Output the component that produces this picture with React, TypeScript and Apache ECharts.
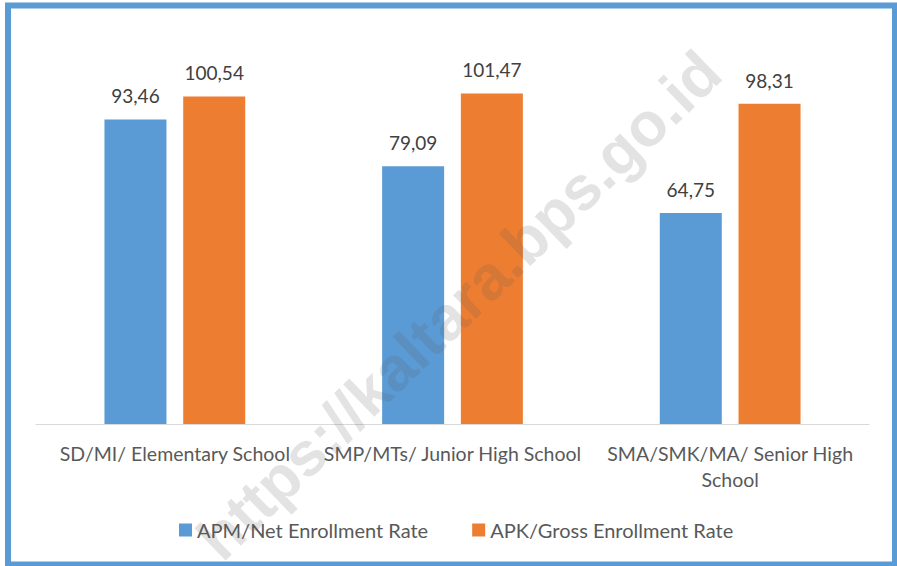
import React, { useEffect, useRef } from "react";
import * as echarts from "echarts";

const categories = [
  "SD/MI/ Elementary School",
  "SMP/MTs/ Junior High School",
  "SMA/SMK/MA/ Senior High School",
];
const apmValues = [93.46, 79.09, 64.75];
const apkValues = [100.54, 101.47, 98.31];
const seriesNames = ["APM/Net Enrollment Rate", "APK/Gross Enrollment Rate"];
const watermark = "https://kaltara.bps.go.id";

const FONT = "Lato";

export default function App() {
  const ref = useRef<HTMLDivElement>(null);
  useEffect(() => {
    if (!ref.current) return;
    const chart = echarts.init(ref.current, null, { renderer: "svg" });
    const fmt = (p: any) => Number(p.value).toFixed(2).replace(".", ",");
    chart.setOption({
      animation: false,
      backgroundColor: "#ffffff",
      grid: { left: 36, right: 28, top: 33, bottom: 142 },
      legend: {
        left: 174,
        top: 515,
        itemWidth: 13,
        itemHeight: 13,
        itemGap: 44,
        icon: "rect",
        textStyle: { fontFamily: FONT, fontSize: 20, color: "#595959" },
        data: seriesNames,
      },
      xAxis: {
        type: "category",
        data: categories,
        axisLine: { lineStyle: { color: "#D9D9D9", width: 1 } },
        axisTick: { show: false },
        axisLabel: {
          interval: 0,
          margin: 16,
          fontFamily: FONT,
          fontSize: 19.5,
          color: "#595959",
          lineHeight: 26,
          formatter: (v: string) =>
            v.length > 28 ? v.replace(/ School$/, "\nSchool") : v,
        },
      },
      yAxis: {
        type: "value",
        min: 0,
        max: 120,
        show: false,
        splitLine: { show: false },
      },
      series: [
        {
          name: seriesNames[0],
          type: "bar",
          data: apmValues,
          barWidth: 62,
          barGap: "27%",
          itemStyle: { color: "#5B9BD5" },
          label: {
            show: true,
            position: "top",
            distance: 14,
            formatter: fmt,
            fontFamily: FONT,
            fontSize: 19,
            color: "#404040",
          },
        },
        {
          name: seriesNames[1],
          type: "bar",
          data: apkValues,
          barWidth: 62,
          barGap: "27%",
          itemStyle: { color: "#ED7D31" },
          label: {
            show: true,
            position: "top",
            distance: 14,
            formatter: fmt,
            fontFamily: FONT,
            fontSize: 19,
            color: "#404040",
          },
        },
      ],
      graphic: [
        {
          type: "rect",
          z: 100,
          shape: { x: 8, y: 5.5, width: 887, height: 559 },
          style: { fill: "none", stroke: "#5B9BD5", lineWidth: 6 },
          silent: true,
        },
        {
          type: "text",
          z: 101,
          x: 459,
          y: 305,
          rotation: (44 * Math.PI) / 180,
          silent: true,
          style: {
            text: watermark,
            fontFamily: "Liberation Sans",
            fontWeight: "bold",
            fontSize: 62,
            fill: "rgba(90,90,90,0.17)",
            align: "center",
            verticalAlign: "middle",
          },
        },
      ],
    });
    return () => chart.dispose();
  }, []);
  return (
    <div
      ref={ref}
      style={{ position: "fixed", left: 0, top: 0, width: 897, height: 566 }}
    />
  );
}
